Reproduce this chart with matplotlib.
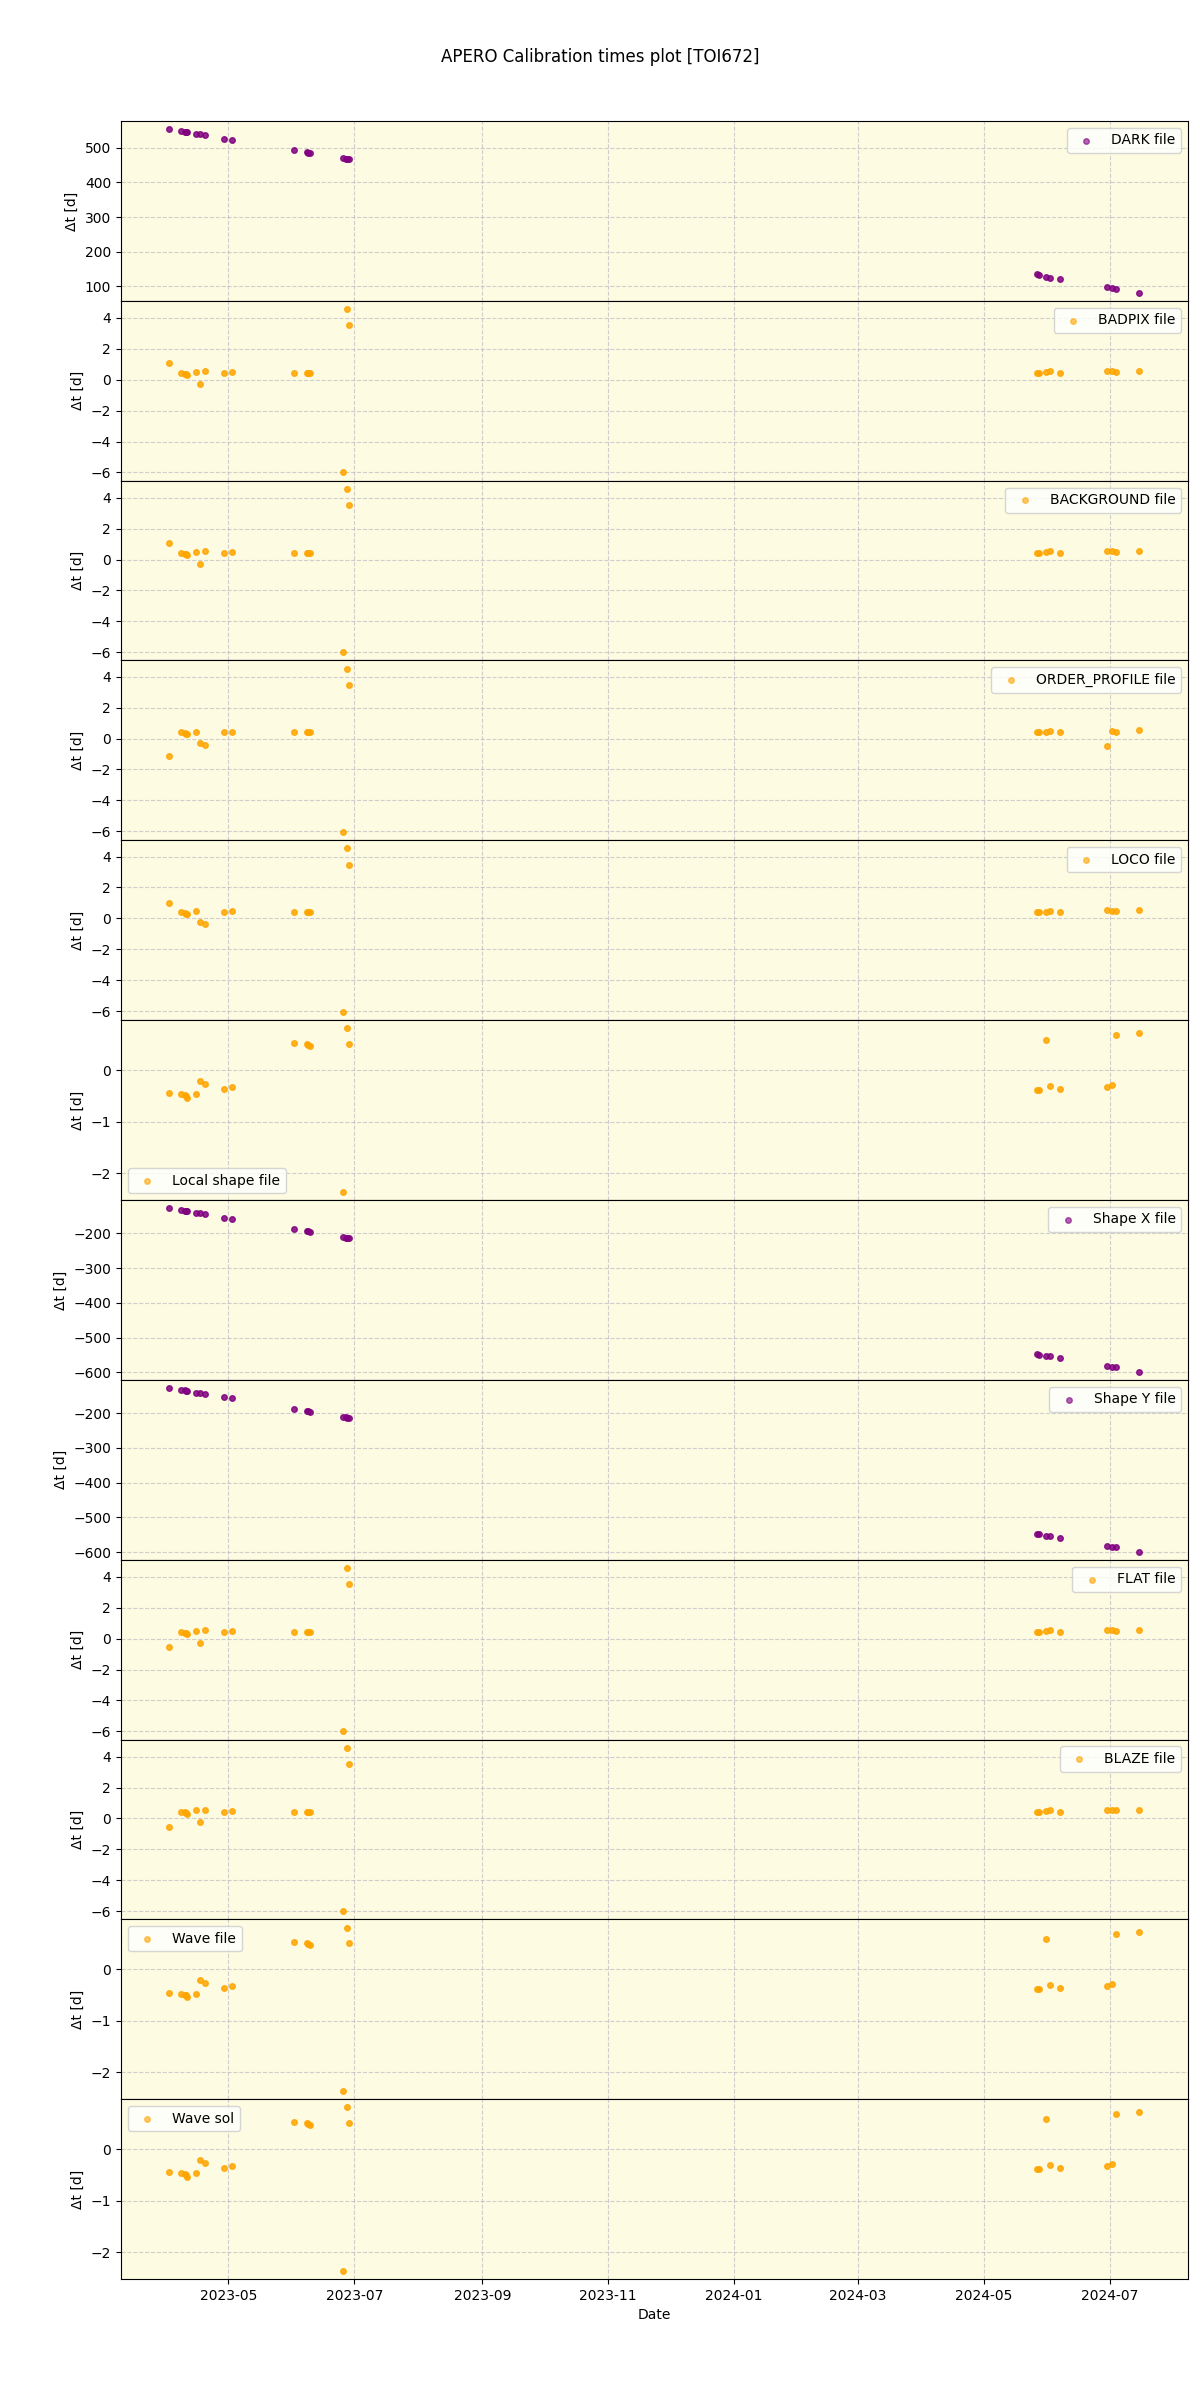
import numpy as np
import pandas as pd
import matplotlib
matplotlib.use('Agg')
import matplotlib.pyplot as plt

nan = np.nan

# observation dates (shared by all panels)
obs_dates = pd.to_datetime([
    '2023-04-02 10:00', '2023-04-08 02:00', '2023-04-09 17:00', '2023-04-10 12:00',
    '2023-04-11 02:00', '2023-04-15 12:00', '2023-04-17 10:00', '2023-04-19 10:00',
    '2023-04-29 02:00', '2023-05-02 22:00', '2023-06-02 00:00', '2023-06-08 00:00',
    '2023-06-08 14:00', '2023-06-09 07:00', '2023-06-25 07:00', '2023-06-26 22:00',
    '2023-06-27 12:00', '2023-06-28 05:00',
    '2024-05-26 19:00', '2024-05-27 19:00', '2024-05-31 00:00', '2024-06-01 22:00',
    '2024-06-06 19:00', '2024-06-29 22:00', '2024-07-02 00:00', '2024-07-03 22:00',
    '2024-07-15 12:00',
])

# delta t in days for every calibration type (nan = no point)
dark = [554, 548, 546, 545.5, 545, 540, 539, 536.5, 525, 522, 493, 487, 485.5, 485,
        470, 468, 467.5, 467, 134.5, 131.5, 128, 125, 122, 99, 96, 93, 82]
badpix = [1.10, 0.45, 0.39, 0.35, 0.32, 0.52, -0.26, 0.58, 0.45, 0.49, 0.45, 0.45, 0.45, 0.45,
          -6.0, nan, 4.58, 3.55, 0.45, 0.45, 0.47, 0.54, 0.45, 0.58, 0.54, 0.52, 0.58]
background = [1.10, 0.45, 0.39, 0.35, 0.32, 0.52, -0.26, 0.58, 0.45, 0.49, 0.45, 0.45, 0.45, 0.45,
              -6.0, nan, 4.58, 3.55, 0.45, 0.45, 0.47, 0.54, 0.45, 0.58, 0.54, 0.52, 0.58]
order_profile = [-1.16, 0.41, 0.34, 0.30, 0.26, 0.45, -0.32, -0.45, 0.39, 0.45, 0.39, 0.39, 0.39, 0.39,
                 -6.06, nan, 4.52, 3.48, 0.39, 0.39, 0.41, 0.47, 0.39, -0.49, 0.49, 0.45, 0.52]
loco = [1.0, 0.41, 0.34, 0.30, 0.26, 0.45, -0.22, -0.35, 0.39, 0.45, 0.39, 0.39, 0.39, 0.39,
        -6.06, nan, 4.52, 3.48, 0.39, 0.39, 0.41, 0.47, 0.39, 0.52, 0.49, 0.45, 0.52]
local_shape = [-0.45, -0.47, -0.49, -0.50, -0.54, -0.47, -0.21, -0.27, -0.36, -0.32, 0.52, 0.51, 0.49, 0.47,
               -2.36, nan, 0.81, 0.51, -0.39, -0.38, 0.58, -0.30, -0.37, -0.32, -0.29, 0.68, 0.72]
shape_x = [-128, -133, -135, -135.5, -136, -141, -143, -145, -155, -158, -188, -194, -195, -196,
           -211, -212.5, -213, -214, -548, -549, -552, -554, -559, -582, -584, -586, -598]
shape_y = [-128, -133, -135, -135.5, -136, -141, -143, -145, -155, -158, -188, -194, -195, -196,
           -211, -212.5, -213, -214, -548, -549, -552, -554, -559, -582, -584, -586, -598]
flat = [-0.55, 0.45, 0.39, 0.35, 0.32, 0.52, -0.26, 0.58, 0.45, 0.49, 0.45, 0.45, 0.45, 0.45,
        -6.0, nan, 4.58, 3.55, 0.45, 0.45, 0.47, 0.54, 0.45, 0.58, 0.54, 0.52, 0.58]
blaze = [-0.55, 0.45, 0.39, 0.35, 0.32, 0.52, -0.26, 0.58, 0.45, 0.49, 0.45, 0.45, 0.45, 0.45,
         -6.0, nan, 4.58, 3.55, 0.45, 0.45, 0.47, 0.54, 0.45, 0.58, 0.54, 0.52, 0.58]
wave_file = [-0.45, -0.47, -0.49, -0.50, -0.54, -0.47, -0.21, -0.27, -0.36, -0.32, 0.52, 0.51, 0.49, 0.47,
             -2.36, nan, 0.81, 0.51, -0.39, -0.38, 0.58, -0.30, -0.37, -0.32, -0.29, 0.68, 0.72]
wave_sol = [-0.45, -0.47, -0.49, -0.50, -0.54, -0.47, -0.21, -0.27, -0.36, -0.32, 0.52, 0.51, 0.49, 0.47,
            -2.36, nan, 0.81, 0.51, -0.39, -0.38, 0.58, -0.30, -0.37, -0.32, -0.29, 0.68, 0.72]

labels = ['DARK file', 'BADPIX file', 'BACKGROUND file', 'ORDER_PROFILE file', 'LOCO file',
          'Local shape file', 'Shape X file', 'Shape Y file', 'FLAT file', 'BLAZE file',
          'Wave file', 'Wave sol']
series = [dark, badpix, background, order_profile, loco, local_shape, shape_x, shape_y,
          flat, blaze, wave_file, wave_sol]
colors = ['purple', 'orange', 'orange', 'orange', 'orange', 'orange', 'purple', 'purple',
          'orange', 'orange', 'orange', 'orange']
legend_locs = ['upper right'] * 5 + ['lower left'] + ['upper right'] * 4 + ['upper left'] * 2

fig, axes = plt.subplots(12, 1, figsize=(12, 24), sharex=True)
fig.subplots_adjust(left=0.1008, right=0.99, top=0.9496, bottom=0.0504, hspace=0)

for ax, lab, vals, col, loc in zip(axes, labels, series, colors, legend_locs):
    ax.set_facecolor('#fdfbe1')
    ax.scatter(obs_dates, vals, s=16, color=col, alpha=0.85, label=lab)
    ax.grid(True, linestyle='--', color='#b0b0c0', alpha=0.6)
    ax.set_axisbelow(True)
    ax.set_ylabel('Δt [d]')
    leg = ax.legend(loc=loc)
    for h in leg.legend_handles:
        h.set_alpha(0.6)

axes[-1].set_xlabel('Date')
fig.suptitle('APERO Calibration times plot [TOI672]')

plt.savefig('out.png', dpi=100)
